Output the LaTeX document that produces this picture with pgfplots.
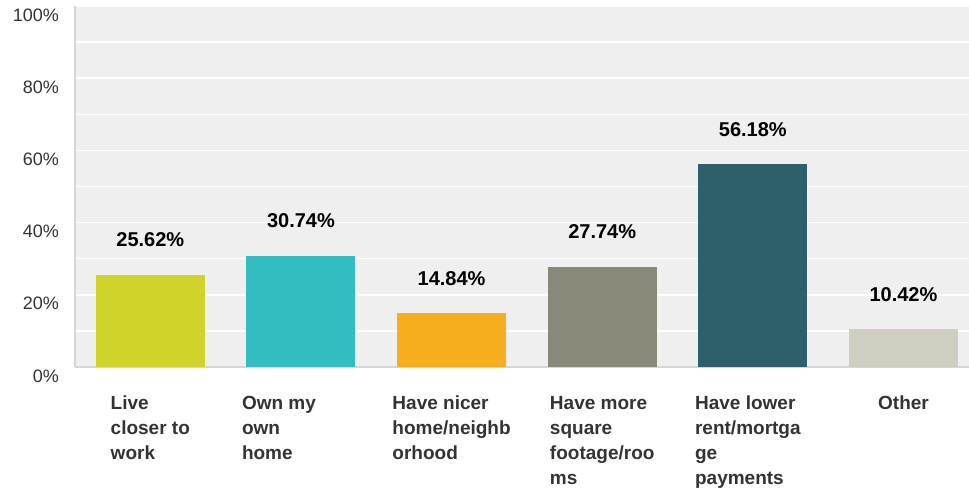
\documentclass[border=0pt]{standalone}
\usepackage{fontspec}
\setmainfont{Liberation Sans}
\usepackage{pgfplots}
\pgfplotsset{compat=1.18}
\definecolor{c1}{HTML}{D0D42A}
\definecolor{c2}{HTML}{33BDC0}
\definecolor{c3}{HTML}{F6AE1F}
\definecolor{c4}{HTML}{888978}
\definecolor{c5}{HTML}{2E606C}
\definecolor{c6}{HTML}{D0CEC0}
\definecolor{bgc}{HTML}{EFEFEF}
\definecolor{axgray}{HTML}{D6D6D6}
\definecolor{labgray}{HTML}{333333}
\begin{document}
\begin{tikzpicture}[x=1pt,y=1pt]
\path[use as bounding box] (0,0) rectangle (969,490);
\begin{axis}[
  at={(75pt,123pt)}, anchor=south west,
  scale only axis, width=894pt, height=361pt,
  xmin=-0.5, xmax=5.435, ymin=0, ymax=100,
  /pgf/number format/assume math mode=true,
  axis background/.style={fill=bgc},
  axis x line*=bottom, axis y line*=left,
  axis line style={draw=axgray, line width=2.5pt},
  ytick={0,20,...,100}, minor ytick={10,30,...,90},
  yticklabel={\pgfmathprintnumber{\tick}\%},
  ymajorgrids, yminorgrids,
  major grid style={white, line width=1.5pt},
  minor grid style={white, line width=1.5pt},
  major tick length=0pt, minor tick length=0pt,
  yticklabel style={font=\fontsize{18}{20}\selectfont, text=labgray, inner sep=0pt, anchor=east, xshift=-16pt, yshift=-9pt},
  xtick={0,0.854,2,3,3.967,5},
  xticklabels={{Live\\closer to\\work},{Own my\\own\\home},{Have nicer\\home/neighb\\orhood},{Have more\\square\\footage/roo\\ms},{Have lower\\rent/mortga\\ge\\payments},{Other}},
  xticklabel style={align=left, font=\bfseries\fontsize{19}{25}\selectfont, text=labgray, anchor=north, inner sep=0pt, yshift=-29pt},
  nodes near coords={\pgfmathprintnumber[fixed,fixed zerofill,precision=2]{\pgfplotspointmeta}\%},
  every node near coord/.append style={font=\bfseries\fontsize{20}{22}\selectfont, text=black, anchor=center, yshift=35pt},
]
\addplot[ybar, bar shift=0pt, bar width=0.724, fill=c1, draw=none] coordinates {(0,25.62)};
\addplot[ybar, bar shift=0pt, bar width=0.724, fill=c2, draw=none] coordinates {(1,30.74)};
\addplot[ybar, bar shift=0pt, bar width=0.724, fill=c3, draw=none] coordinates {(2,14.84)};
\addplot[ybar, bar shift=0pt, bar width=0.724, fill=c4, draw=none] coordinates {(3,27.74)};
\addplot[ybar, bar shift=0pt, bar width=0.724, fill=c5, draw=none] coordinates {(4,56.18)};
\addplot[ybar, bar shift=0pt, bar width=0.724, fill=c6, draw=none] coordinates {(5,10.42)};
\end{axis}
\end{tikzpicture}
\end{document}
